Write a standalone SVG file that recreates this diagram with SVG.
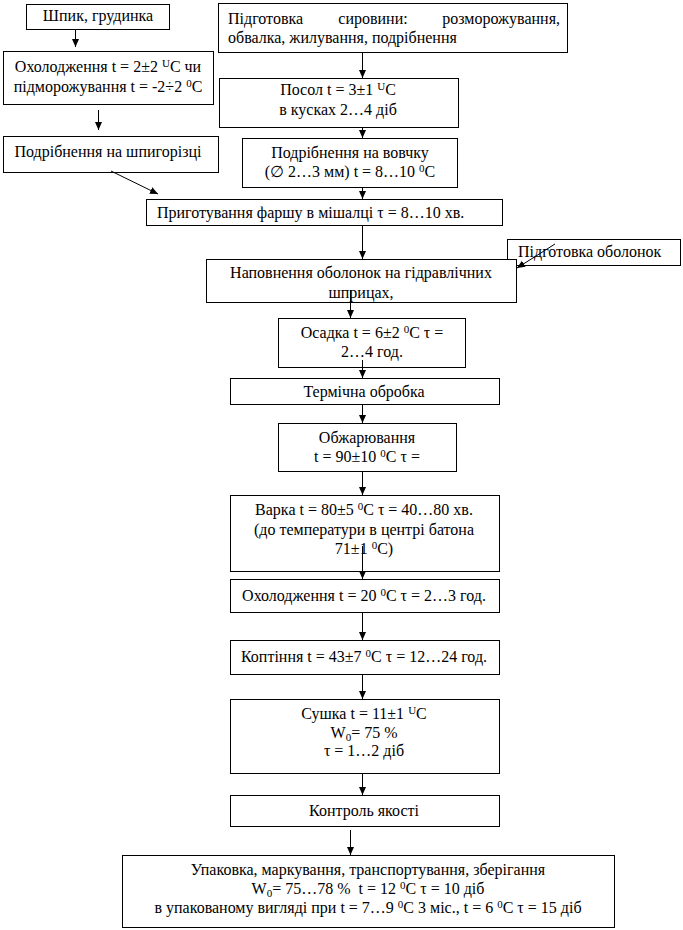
<svg xmlns="http://www.w3.org/2000/svg" width="683" height="930" viewBox="0 0 683 930" font-family="'Liberation Serif', 'DejaVu Serif', serif">
<style>
rect{fill:#fff;stroke:#000;stroke-width:1}
text{font-family:'Liberation Serif','DejaVu Serif',serif;font-size:16px;fill:#000}
.m{text-anchor:middle}
.e{text-anchor:end}
.c line{stroke:#000;stroke-width:1}
.sup{font-size:11px}
</style>
<defs>
<marker id="ah" markerUnits="userSpaceOnUse" markerWidth="8" markerHeight="8" refX="8" refY="4" orient="auto">
<path d="M0,0.5 L8,4 L0,7.5 z" fill="#000"/>
</marker>
</defs>
<g id="n1"><rect x="26.5" y="4.5" width="143" height="25"/><text class="m" x="98" y="21">Шпик, грудинка</text></g>
<g id="n2"><rect x="3.5" y="51.5" width="210" height="53"/><text class="m" x="108" y="72">Охолодження t = 2±2 <tspan class="sup" dy="-5">U</tspan><tspan dy="5">C чи</tspan></text><text class="m" x="108" y="92">підморожування t = -2÷2 <tspan class="sup" dy="-5">0</tspan><tspan dy="5">C</tspan></text></g>
<g id="n3"><rect x="3.5" y="136.5" width="215" height="36"/><text class="m" x="108" y="157">Подрібнення на шпигорізці</text></g>
<g id="n4"><rect x="218.5" y="3.5" width="349" height="49"/><text y="24"><tspan x="228">Підготовка</tspan><tspan class="m" x="373">сировини:</tspan><tspan class="e" x="560">розморожування,</tspan></text><text x="228" y="43">обвалка, жилування, подрібнення</text></g>
<g id="n5"><rect x="219.5" y="78.5" width="239" height="49"/><text class="m" x="338" y="95">Посол t = 3±1 <tspan class="sup" dy="-5">U</tspan><tspan dy="5">C</tspan></text><text class="m" x="338" y="115">в кусках 2…4 діб</text></g>
<g id="n6"><rect x="242.5" y="138.5" width="215" height="49"/><text class="m" x="350" y="158">Подрібнення на вовчку</text><text class="m" x="350" y="177">(∅ 2…3 мм) t = 8…10 <tspan class="sup" dy="-5">0</tspan><tspan dy="5">C</tspan></text></g>
<g id="n7"><rect x="146.5" y="199.5" width="356" height="26"/><text x="157" y="218">Приготування фаршу в мішалці τ = 8…10 хв.</text></g>
<g id="n8"><rect x="507.5" y="239.5" width="173" height="26"/><text x="518" y="257">Підготовка оболонок</text></g>
<g id="n9"><rect x="206.5" y="259.5" width="310" height="43"/><text class="m" x="361" y="278">Наповнення оболонок на гідравлічних</text><text class="m" x="361" y="298">шприцах,</text></g>
<g id="n10"><rect x="278.5" y="318.5" width="187" height="49"/><text class="m" x="372" y="338">Осадка t = 6±2 <tspan class="sup" dy="-5">0</tspan><tspan dy="5">C τ =</tspan></text><text class="m" x="372" y="357">2…4 год.</text></g>
<g id="n11"><rect x="230.5" y="378.5" width="269" height="26"/><text class="m" x="364" y="397">Термічна обробка</text></g>
<g id="n12"><rect x="278.5" y="423.5" width="178" height="48"/><text class="m" x="367" y="443">Обжарювання</text><text class="m" x="367" y="462">t = 90±10 <tspan class="sup" dy="-5">0</tspan><tspan dy="5">C τ =</tspan></text></g>
<g id="n13"><rect x="230.5" y="495.5" width="269" height="76"/><text class="m" x="364" y="515">Варка t = 80±5 <tspan class="sup" dy="-5">0</tspan><tspan dy="5">C τ = 40…80 хв.</tspan></text><text class="m" x="364" y="535">(до температури в центрі батона</text><text class="m" x="364" y="554">71±1 <tspan class="sup" dy="-5">0</tspan><tspan dy="5">C)</tspan></text></g>
<g id="n14"><rect x="230.5" y="579.5" width="269" height="33"/><text class="m" x="364" y="601">Охолодження t = 20 <tspan class="sup" dy="-5">0</tspan><tspan dy="5">C τ = 2…3 год.</tspan></text></g>
<g id="n15"><rect x="230.5" y="640.5" width="269" height="34"/><text class="m" x="364" y="662">Коптіння t = 43±7 <tspan class="sup" dy="-5">0</tspan><tspan dy="5">C τ = 12…24 год.</tspan></text></g>
<g id="n16"><rect x="230.5" y="699.5" width="269" height="74"/><text class="m" x="364" y="719">Сушка t = 11±1 <tspan class="sup" dy="-5">U</tspan><tspan dy="5">C</tspan></text><text class="m" x="364" y="738">W<tspan class="sup" dy="3">0</tspan><tspan dy="-3">= 75 %</tspan></text><text class="m" x="364" y="756">τ = 1…2 діб</text></g>
<g id="n17"><rect x="230.5" y="795.5" width="269" height="31"/><text class="m" x="364" y="816">Контроль якості</text></g>
<g id="n18"><rect x="122.5" y="855.5" width="492" height="72"/><text class="m" x="368" y="875">Упаковка, маркування, транспортування, зберігання</text><text class="m" x="368" y="894">W<tspan class="sup" dy="3">0</tspan><tspan dy="-3" xml:space="preserve">= 75…78 %  t = 12 </tspan><tspan class="sup" dy="-5">0</tspan><tspan dy="5">C τ = 10 діб</tspan></text><text class="m" x="368" y="913">в упакованому вигляді при t = 7…9 <tspan class="sup" dy="-5">0</tspan><tspan dy="5">C 3 міс., t = 6 </tspan><tspan class="sup" dy="-5">0</tspan><tspan dy="5">C τ = 15 діб</tspan></text></g>
<g class="c" id="connectors">
<line x1="75.5" y1="29" x2="75.5" y2="47" marker-end="url(#ah)"/>
<line x1="98.5" y1="110" x2="98.5" y2="130" marker-end="url(#ah)"/>
<line x1="111" y1="171" x2="158" y2="194" marker-end="url(#ah)"/>
<line x1="362.5" y1="52" x2="362.5" y2="78" marker-end="url(#ah)"/>
<line x1="362.5" y1="127" x2="362.5" y2="138" marker-end="url(#ah)"/>
<line x1="362.5" y1="187" x2="362.5" y2="199" marker-end="url(#ah)"/>
<line x1="362.5" y1="225" x2="362.5" y2="259" marker-end="url(#ah)"/>
<line x1="555" y1="244" x2="517" y2="268" marker-end="url(#ah)"/>
<line x1="350.5" y1="290" x2="350.5" y2="318" marker-end="url(#ah)"/>
<line x1="362.5" y1="360" x2="362.5" y2="378" marker-end="url(#ah)"/>
<line x1="362.5" y1="404" x2="362.5" y2="423" marker-end="url(#ah)"/>
<line x1="362.5" y1="471" x2="362.5" y2="495" marker-end="url(#ah)"/>
<line x1="362.5" y1="546" x2="362.5" y2="579" marker-end="url(#ah)"/>
<line x1="362.5" y1="612" x2="362.5" y2="640" marker-end="url(#ah)"/>
<line x1="362.5" y1="674" x2="362.5" y2="699" marker-end="url(#ah)"/>
<line x1="362.5" y1="773" x2="362.5" y2="795" marker-end="url(#ah)"/>
<line x1="350.5" y1="830" x2="350.5" y2="855" marker-end="url(#ah)"/>
</g>
</svg>
